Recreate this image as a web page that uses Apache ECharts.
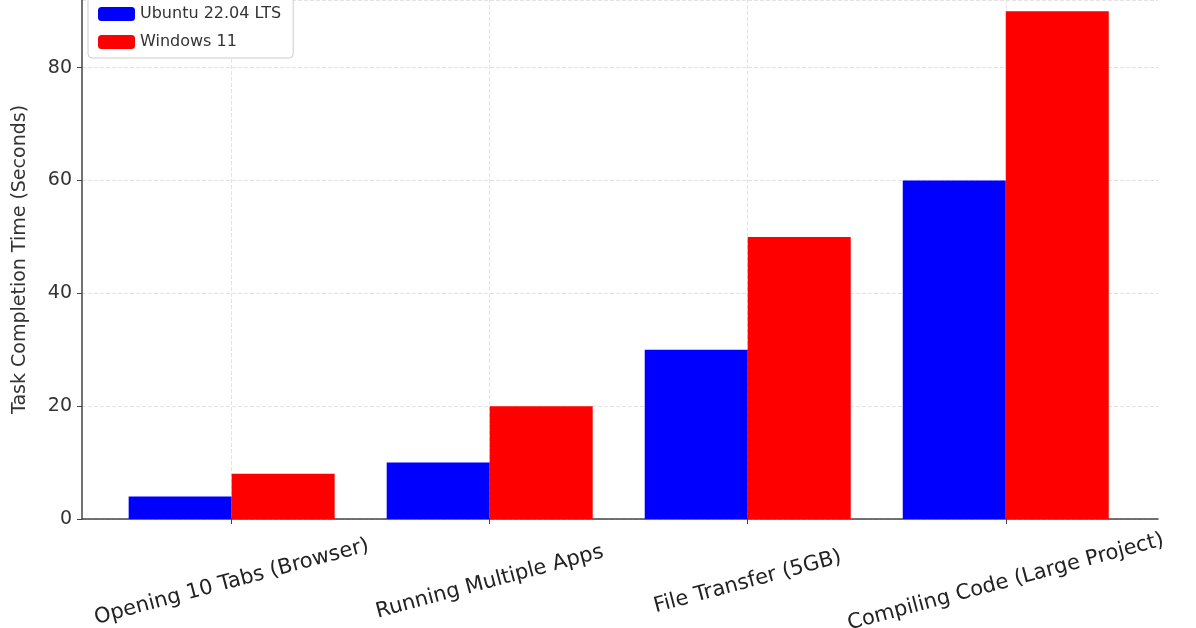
<!DOCTYPE html>
<html><head><meta charset="utf-8">
<script src="https://cdn.jsdelivr.net/npm/echarts@6/dist/echarts.min.js"></script>
<style>html,body{margin:0;background:#fff}#c{width:1196px;height:628px}</style>
</head><body><div id="c"></div>
<script>
const categories = ['Opening 10 Tabs (Browser)','Running Multiple Apps','File Transfer (5GB)','Compiling Code (Large Project)'];
const ubuntu = [4, 10, 30, 60];
const windows = [8, 20, 50, 90];
const idx = categories.map((_, i) => i);
const chart = echarts.init(document.getElementById('c'));
chart.setOption({
  animation: false,
  textStyle: {fontFamily: 'DejaVu Sans'},
  grid: {left: 82, right: 38, top: 0, bottom: 109, outerBoundsMode: 'none', containLabel: false},
  legend: {
    data: ['Ubuntu 22.04 LTS', 'Windows 11'],
    left: 88, top: -4, orient: 'vertical', itemWidth: 37, itemHeight: 14, itemGap: 12,
    padding: [10, 12, 8, 10], borderColor: '#ccc', borderWidth: 1, borderRadius: 4, backgroundColor: '#fff',
    textStyle: {fontSize: 16, color: '#333'}
  },
  xAxis: {
    type: 'value', min: -0.58, max: 3.59,
    axisLine: {show: true, onZero: false, lineStyle: {color: '#444', width: 1.5}},
    splitLine: {show: false},
    axisTick: {show: true, customValues: idx, length: 5, lineStyle: {color: '#444'}},
    axisLabel: {customValues: idx, formatter: v => categories[Math.round(v)] || '', rotate: 15,
      fontSize: 21, color: '#222', margin: 63, align: 'center', verticalAlign: 'middle'}
  },
  yAxis: {
    type: 'value', min: 0, max: 92, interval: 20,
    name: 'Task Completion Time (Seconds)', nameLocation: 'middle', nameGap: 52,
    nameTextStyle: {fontSize: 19, color: '#333'},
    axisLine: {show: true, onZero: false, lineStyle: {color: '#444', width: 1.5}},
    axisTick: {show: true, length: 5, lineStyle: {color: '#444'}},
    axisLabel: {fontSize: 19, color: '#333', showMaxLabel: false, margin: 10},
    splitLine: {show: true, lineStyle: {color: '#e3e3e3', type: 'dashed'}}
  },
  series: [
    {name: 'grid', type: 'line', data: [], silent: true, z: 0,
     markLine: {silent: true, symbol: 'none', label: {show: false}, z: 0,
       lineStyle: {color: '#e3e3e3', type: 'dashed', width: 1}, data: idx.map(i => ({xAxis: i}))}},
    {name: 'Ubuntu 22.04 LTS', type: 'bar', barWidth: 103, barGap: '0%', itemStyle: {color: '#0000ff'},
     data: ubuntu.map((v, i) => [i, v])},
    {name: 'Windows 11', type: 'bar', barWidth: 103, barGap: '0%', itemStyle: {color: '#ff0000'},
     data: windows.map((v, i) => [i, v])}
  ]
});
</script></body></html>
